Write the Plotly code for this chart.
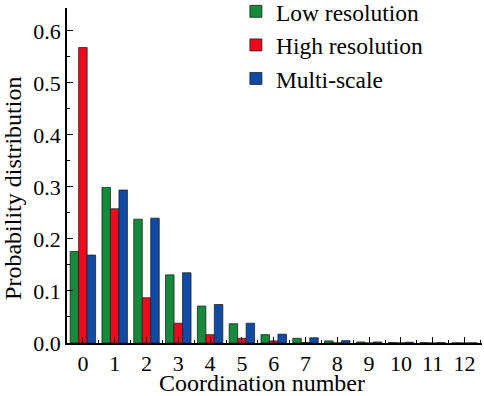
import plotly.graph_objects as go

coordination = [0, 1, 2, 3, 4, 5, 6, 7, 8, 9, 10, 11, 12]
low_res = [0.176, 0.299, 0.238, 0.131, 0.071, 0.037, 0.016, 0.009, 0.004, 0.002, 0.001, 0.0008, 0.0003]
high_res = [0.568, 0.258, 0.087, 0.038, 0.016, 0.009, 0.004, 0.001, 0.0003, 0.0001, 0.0001, 0.0, 0.0]
multi_scale = [0.169, 0.294, 0.240, 0.135, 0.074, 0.038, 0.017, 0.010, 0.0045, 0.002, 0.0015, 0.0008, 0.0003]
series_names = ["Low resolution", "High resolution", "Multi-scale"]
colors = ["#148a3c", "#ee0a1e", "#0f4aa6"]
x_title = "Coordination number"
y_title = "Probability distribution"

FONT = "Liberation Serif, Times New Roman, serif"

fig = go.Figure()
for name, vals, col in zip(series_names, [low_res, high_res, multi_scale], colors):
    fig.add_trace(go.Bar(
        x=coordination, y=vals, name=name,
        marker=dict(color=col, line=dict(color="#222222", width=0.8)),
    ))

fig.update_layout(
    width=484, height=396,
    margin=dict(l=67, r=2, t=8, b=53, autoexpand=False),
    paper_bgcolor="white", plot_bgcolor="white",
    barmode="group", bargap=0.2, bargroupgap=0,
    font=dict(family=FONT, size=22, color="black"),
    showlegend=True,
    legend=dict(
        x=0.407, y=1.055, xanchor="left", yanchor="top",
        font=dict(family=FONT, size=23.5, color="black"),
        bgcolor="rgba(0,0,0,0)", tracegroupgap=0,
    ),
    xaxis=dict(
        range=[-0.5, 12.55], tickmode="linear", tick0=0, dtick=1,
        showline=True, linecolor="black", linewidth=1.5, mirror=False,
        ticks="inside", ticklen=6, tickwidth=1.2, tickcolor="black",
        minor=dict(tick0=0.5, dtick=1, ticks="inside", ticklen=3, tickwidth=1.2, tickcolor="black"),
        showgrid=False, zeroline=False, automargin=False,
        tickfont=dict(family=FONT, size=22),
    ),
    yaxis=dict(
        range=[0, 0.644], tickmode="linear", tick0=0, dtick=0.1, tickformat=".1f",
        showline=True, linecolor="black", linewidth=1.5, mirror=False,
        ticks="inside", ticklen=6, tickwidth=1.2, tickcolor="black",
        minor=dict(dtick=0.05, ticks="inside", ticklen=3, tickwidth=1.2, tickcolor="black"),
        showgrid=False, zeroline=False, automargin=False,
        tickfont=dict(family=FONT, size=22),
    ),
    annotations=[
        dict(
            text=y_title, xref="paper", yref="paper",
            x=-0.13, y=0.46, textangle=-90, showarrow=False,
            font=dict(family=FONT, size=24, color="black"),
            xanchor="center", yanchor="middle",
        ),
        dict(
            text=x_title, xref="paper", yref="paper",
            x=0.47, y=-0.12, showarrow=False,
            font=dict(family=FONT, size=24, color="black"),
            xanchor="center", yanchor="middle",
        ),
    ],
)

fig.write_html(
    "out.html",
    config={"displayModeBar": False},
    post_script="document.body.style.margin='0px';document.body.style.padding='0px';",
)
